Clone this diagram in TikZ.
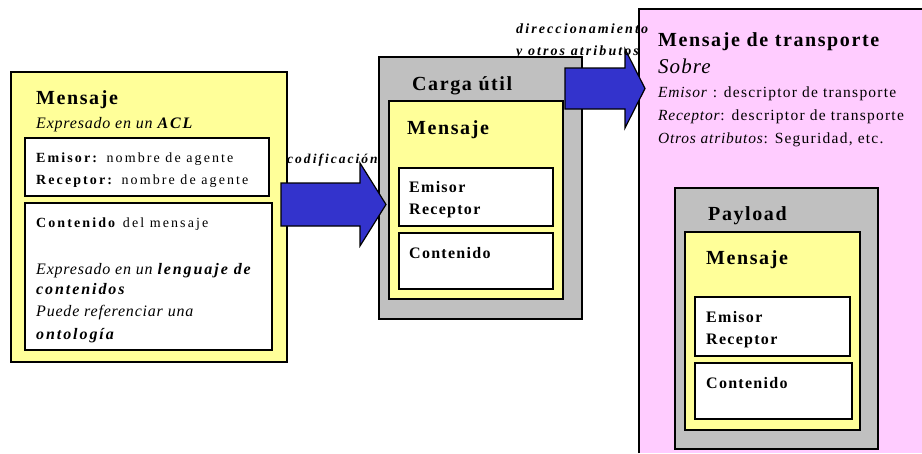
\documentclass[tikz,border=0pt]{standalone}
\usepackage{fontspec}
\setmainfont{Liberation Serif}[LetterSpace=8, ItalicFeatures={LetterSpace=5}, BoldItalicFeatures={LetterSpace=12}]
\newfontfamily\widefont{Liberation Serif}[LetterSpace=15, ItalicFeatures={LetterSpace=5}, BoldItalicFeatures={LetterSpace=15}]
\definecolor{paleyellow}{HTML}{FFFF99}
\definecolor{boxgray}{HTML}{C0C0C0}
\definecolor{pinkbg}{HTML}{FFCCFF}
\definecolor{arrowblue}{HTML}{3333CC}
\newcommand\fs[1]{\fontsize{#1}{#1}\selectfont}
\tikzset{
  lbl/.style={inner sep=0pt, anchor=base west},
  frame/.style={draw=black, line width=1.5pt},
  blockarrow/.style={fill=arrowblue, draw=black, line width=1.2pt, line join=miter}
}
\begin{document}
\begin{tikzpicture}[x=1pt, y=-1pt]
\useasboundingbox (0,0) rectangle (922,453);
\fill[white] (0,0) rectangle (922,453);

% ---------- left message box ----------
\draw[frame, fill=paleyellow] (11,72) rectangle (287,362);
\draw[frame, fill=white] (25,138) rectangle (269,196);
\draw[frame, fill=white] (25,203) rectangle (272,350);
\node[lbl] (lm) at (36,104) {\fs{20}\bfseries Mensaje};
\node[lbl] (lacl) at (36,128) {\fs{16}\itshape Expresado en un \textbf{ACL}};
\node[lbl] (lem) at (36,162) {\widefont\fs{14}\textbf{Emisor:} nombre de agente};
\node[lbl] (lre) at (36,184) {\widefont\fs{14}\textbf{Receptor:} nombre de agente};
\node[lbl] (lco) at (36,227) {\widefont\fs{14}\textbf{Contenido} del mensaje};
\node[lbl] (lex) at (36,274) {\fs{16}\itshape Expresado en un \textbf{lenguaje de}};
\node[lbl] (lcn) at (36,294) {\fs{16}\itshape\bfseries contenidos};
\node[lbl] (lpu) at (36,316) {\fs{16}\itshape Puede referenciar una};
\node[lbl] (lon) at (36,339) {\fs{16}\itshape\bfseries ontología};

% ---------- middle payload box ----------
\draw[frame, fill=boxgray] (379,57) rectangle (582,319);
\draw[frame, fill=paleyellow] (389,101) rectangle (563,299);
\draw[frame, fill=white] (399,168) rectangle (553,226);
\draw[frame, fill=white] (399,233) rectangle (553,289);
\node[lbl] (mc) at (412,90) {\fs{20}\bfseries Carga útil};
\node[lbl] (mm) at (407,134) {\fs{20}\bfseries Mensaje};
\node[lbl] (me) at (409,192) {\fs{16}\bfseries Emisor};
\node[lbl] (mr) at (409,214) {\fs{16}\bfseries Receptor};
\node[lbl] (mco) at (409,258) {\fs{16}\bfseries Contenido};

% ---------- right transport message ----------
\fill[pinkbg] (639,9) rectangle (922,453);
\draw[line width=1.5pt] (639,453) -- (639,9) -- (922,9);
\node[lbl] (tm) at (658,46) {\fs{20}\bfseries Mensaje de transporte};
\node[lbl] (ts) at (658,73) {\fs{21}\itshape Sobre};
\node[lbl] (te) at (658,97) {\fs{15.5}\textit{Emisor} : descriptor de transporte};
\node[lbl] (tr) at (658,120) {\fs{15.5}\textit{Receptor}: descriptor de transporte};
\node[lbl] (to) at (658,143) {\fs{15.5}\textit{Otros atributos}: Seguridad, etc.};

\draw[frame, fill=boxgray] (675,188) rectangle (878,449);
\draw[frame, fill=paleyellow] (685,232) rectangle (860,430);
\draw[frame, fill=white] (695,297) rectangle (850,356);
\draw[frame, fill=white] (695,363) rectangle (852,419);
\node[lbl] (pp) at (708,220) {\fs{20}\bfseries Payload};
\node[lbl] (pm) at (706,264) {\fs{20}\bfseries Mensaje};
\node[lbl] (pe) at (706,322) {\fs{16}\bfseries Emisor};
\node[lbl] (pr) at (706,344) {\fs{16}\bfseries Receptor};
\node[lbl] (pc) at (706,388) {\fs{16}\bfseries Contenido};

% ---------- block arrows ----------
\draw[blockarrow] (281,183) -- (360,183) -- (360,163) -- (386,204.5) -- (360,246) -- (360,226) -- (281,226) -- cycle;
\draw[blockarrow] (565,68) -- (625,68) -- (625,49) -- (645,88.5) -- (625,128) -- (625,109) -- (565,109) -- cycle;

% ---------- arrow labels ----------
\node[lbl] (cod) at (287,163) {\widefont\fs{13.5}\itshape\bfseries codificación};
\node[lbl] (dir1) at (516,33) {\widefont\fs{14}\itshape\bfseries direccionamiento};
\node[lbl] (dir2) at (516,55) {\widefont\fs{14}\itshape\bfseries y otros atributos};
\end{tikzpicture}
\end{document}
